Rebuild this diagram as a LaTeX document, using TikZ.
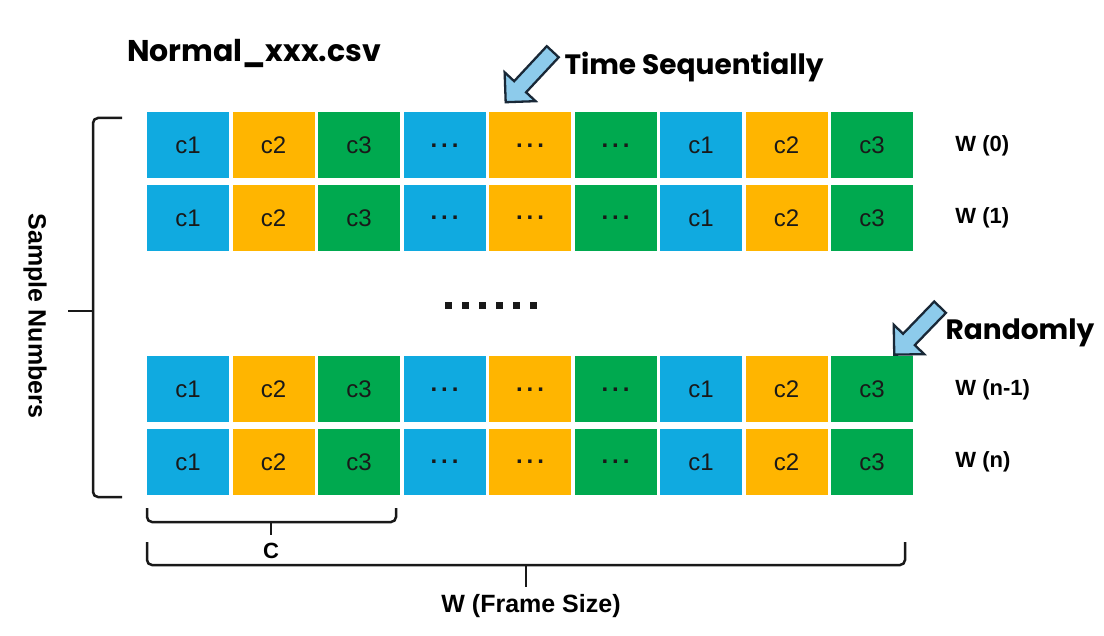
\documentclass[tikz,border=0pt]{standalone}
\usepackage{fontspec}
\setmainfont{Liberation Sans}
\newfontfamily\popfont{Poppins}
\usetikzlibrary{positioning,shapes.arrows}
\definecolor{cellblue}{RGB}{16,170,224}
\definecolor{cellorange}{RGB}{255,181,0}
\definecolor{cellgreen}{RGB}{0,169,79}
\definecolor{arrowfill}{RGB}{141,203,235}
\definecolor{arrowline}{RGB}{25,40,55}

\begin{document}
\begin{tikzpicture}[x=1pt,y=-1pt,node distance=3.1pt,
		cell/.style={inner sep=0pt, minimum width=82pt, minimum height=66pt, text=black!90, font=\fontsize{24}{24}\selectfont},
		bluecell/.style={cell,fill=cellblue},
		orangecell/.style={cell,fill=cellorange},
		greencell/.style={cell,fill=cellgreen},
		rowlabel/.style={font=\fontsize{22}{22}\selectfont\bfseries, inner sep=0pt},
		title/.style={font=\popfont\fontsize{28}{28}\selectfont\bfseries, inner sep=0pt},
		bracket/.style={draw=black!90, line width=2.5pt, rounded corners=5pt},
		blockarrow/.style={single arrow, draw=arrowline, fill=arrowfill, line width=2.3pt,
			inner sep=0pt, text height=7pt, text depth=7pt, minimum width=0pt, single arrow head extend=13pt}]

	\fill[white] (0,0) rectangle (1104,636);
	\useasboundingbox (0,0) rectangle (1104,636);

	% the frame rows
	\foreach \r/\y/\w in {0/145.5/{W (0)}, 1/218/{W (1)}, 2/389.5/{W (n-1)}, 3/462/{W (n)}} {
		\node[bluecell] (c\r-1) at (188,\y) {c1};
		\foreach \k/\s/\t [remember=\k as \p (initially 1)] in
			{2/orangecell/c2, 3/greencell/c3, 4/bluecell/{\bfseries.\kern4pt.\kern4pt.}, 5/orangecell/{\bfseries.\kern4pt.\kern4pt.},
			 6/greencell/{\bfseries.\kern4pt.\kern4pt.}, 7/bluecell/c1, 8/orangecell/c2, 9/greencell/c3}
			\node[\s, right=of c\r-\p] (c\r-\k) {\t};
		\node[rowlabel, right=42pt of c\r-9] (w\r) {\w};
	}

	% skipped rows
	\foreach \i in {0,...,5}
		\fill[black!90] (444.5+17*\i,302.5) rectangle ++(7,7);

	\node[title, font=\popfont\fontsize{30}{30}\selectfont\bfseries] (file) at (254,53) {Normal\_xxx.csv};
	\node[title] (timeseq) at (694,67) {Time Sequentially};
	\node[title] (random) at (1020,333) {Randomly};

	\node[blockarrow, minimum height=69pt, rotate=227] (timearrow) at (532,74) {};
	\node[blockarrow, minimum height=66pt, rotate=226] (randarrow) at (920,328) {};

	% brackets
	\draw[bracket] (122,118) -- (93,118) -- (93,497) -- (122,497);
	\draw[bracket] (93,311) -- (68,311);
	\node[rowlabel, rotate=-90, font=\fontsize{25}{25}\selectfont\bfseries] (samples) at (35,316) {Sample Numbers};

	\draw[bracket] (147,508) -- (147,522) -- (396,522) -- (396,508);
	\draw[bracket] (271,522) -- (271,535);
	\node[rowlabel] (clen) at (271,551) {C};

	\draw[bracket] (147,542) -- (147,565) -- (905,565) -- (905,542);
	\draw[bracket] (526,565) -- (526,587);
	\node[rowlabel, font=\fontsize{25}{25}\selectfont\bfseries] (wlen) at (531,606) {W (Frame Size)};
\end{tikzpicture}
\end{document}
